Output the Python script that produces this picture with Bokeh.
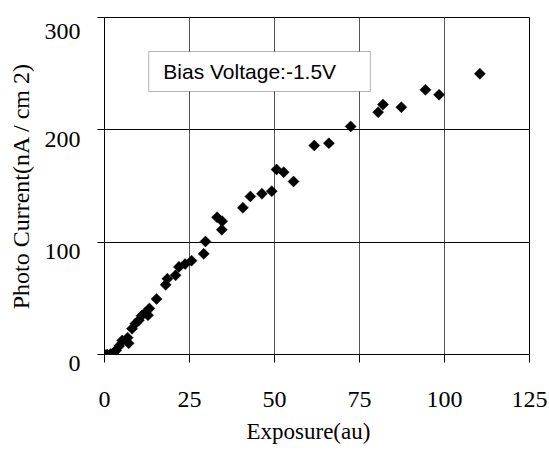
import numpy as np
from bokeh.plotting import figure
from bokeh.models import (ColumnDataSource, BoxAnnotation, Label, Title,
                          FixedTicker, Range1d)
from bokeh.embed import file_html
from bokeh.resources import INLINE

# Data
exposure = [0, 0.8, 1.8, 2.6, 3.4, 4.3, 5.2, 6.8, 7.1, 8.1, 9.1, 10.1, 10.9, 12.1,
            12.8, 13.2, 15.3, 18.0, 18.5, 20.9, 21.9, 23.7, 25.6, 29.2, 29.7, 33.1,
            34.6, 34.5, 40.7, 42.9, 46.3, 49.2, 50.6, 52.7, 55.6, 61.7, 66.0, 72.4,
            80.5, 81.9, 87.3, 94.4, 98.4, 110.4]
photo_current = [0, 0, 0.5, 1.5, 3.5, 7.5, 12.5, 15, 10, 23, 27.5, 30.5, 34.5, 37.5,
                 35, 41, 49.5, 62, 67.5, 70.5, 78, 80.5, 83.5, 89.6, 100.6, 122.2,
                 118.7, 111, 130.6, 140.7, 143.1, 145.4, 164.7, 162.3, 154, 186.1,
                 188.1, 203, 215.7, 222.6, 220.2, 235.6, 231.2, 249.9]
x_ticks = [0, 25, 50, 75, 100, 125]
y_ticks = [0, 100, 200, 300]
y_tick_labels = ["0", "100", "200", "300"]
x_label = "Exposure(au)"
y_label = "Photo Current(nA / cm 2)"
note_text = "Bias Voltage:-1.5V"

SERIF = "Liberation Serif"

p = figure(width=549, height=453, output_backend="svg", toolbar_location=None,
           x_range=Range1d(0, 125), y_range=Range1d(0, 300),
           min_border_left=104, min_border_right=20, min_border_top=17, min_border_bottom=99)

p.background_fill_color = "white"
p.border_fill_color = "white"
p.outline_line_color = "black"
p.outline_line_width = 1

# axes
for ax in (p.xaxis[0], p.yaxis[0]):
    ax.axis_line_color = "black"
    ax.major_tick_line_color = "black"
    ax.minor_tick_line_color = None
    ax.major_tick_in = 0
    ax.major_label_text_font = SERIF
    ax.major_label_text_font_size = "24px"
    ax.major_label_text_color = "black"
    ax.axis_label_text_font = SERIF
    ax.axis_label_text_font_size = "24px"
    ax.axis_label_text_font_style = "normal"
    ax.axis_label_text_color = "black"

p.xaxis.ticker = FixedTicker(ticks=x_ticks)
p.yaxis.ticker = FixedTicker(ticks=y_ticks)
p.xaxis.major_tick_out = 8
p.yaxis.major_tick_out = 7
p.xaxis.major_label_standoff = 29
p.yaxis.major_label_standoff = 17
# a leading empty line nudges each y tick label a little below its tick
p.yaxis.major_label_overrides = {t: "\n" + s for t, s in zip(y_ticks, y_tick_labels)}
p.yaxis.major_label_text_line_height = 0.667
p.yaxis.axis_label = y_label
p.yaxis.axis_label_standoff = 8

# x axis title, slightly left of centre as in the reference
p.add_layout(Title(text=x_label, align="left", offset=142, standoff=14,
                   text_font=SERIF, text_font_size="23px", text_font_style="normal",
                   text_color="black"), "below")

# grid
p.xgrid.ticker = FixedTicker(ticks=x_ticks)
p.ygrid.ticker = FixedTicker(ticks=y_ticks)
p.xgrid.grid_line_color = "#555555"
p.ygrid.grid_line_color = "black"
p.xgrid.grid_line_width = 1
p.ygrid.grid_line_width = 1

src = ColumnDataSource(data=dict(x=exposure, y=photo_current))
p.scatter("x", "y", source=src, marker="square", size=7.8, angle=np.pi / 4,
          fill_color="black", line_color="black", line_width=0.5)

# annotation box
box = BoxAnnotation(left=13, right=78.2, top=269.7, bottom=234.1,
                    fill_color="white", fill_alpha=1.0,
                    line_color="black", line_width=1, level="annotation")
p.add_layout(box)
lbl = Label(x=17.3, y=252, text=note_text, text_font="Liberation Sans",
            text_font_size="21px", text_color="black", text_baseline="middle")
p.add_layout(lbl)

open("out.html", "w").write(file_html(p, INLINE))
